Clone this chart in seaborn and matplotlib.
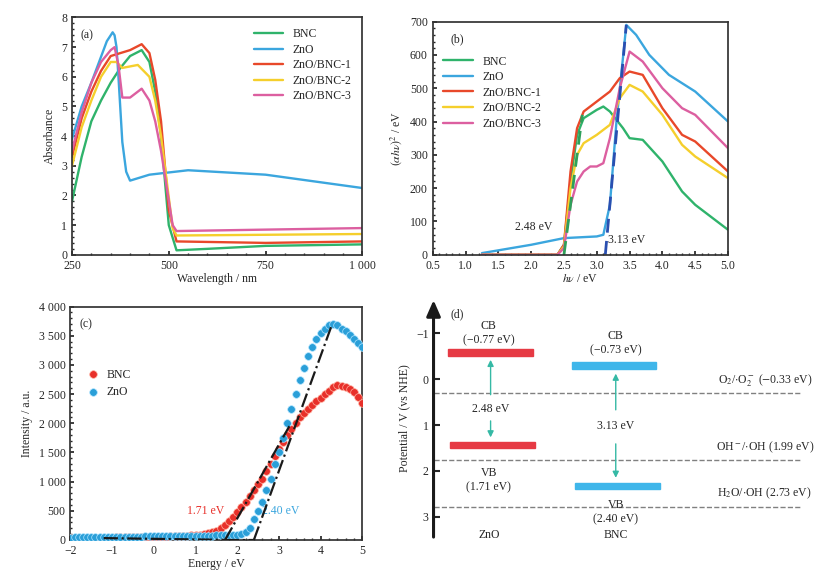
import numpy as np
import matplotlib
matplotlib.use("Agg")
import matplotlib.pyplot as plt
import seaborn as sns

sns.set_theme(style="ticks")
plt.rcParams["font.family"] = ["Liberation Serif", "DejaVu Serif"]
plt.rcParams["mathtext.fontset"] = "stix"
plt.rcParams["axes.edgecolor"] = "#333333"

names = ["BNC", "ZnO", "ZnO/BNC-1", "ZnO/BNC-2", "ZnO/BNC-3"]
colors = ["#2fb36b", "#3ba6de", "#e8482a", "#f5cf2c", "#dc5fa0"]

# (a) absorbance
wl_a = {
    "BNC": [250, 275, 300, 325, 350, 375, 400, 430, 450, 465, 480, 500, 520, 600, 750, 1000],
    "ZnO": [250, 275, 300, 320, 340, 355, 360, 365, 370, 380, 390, 400, 450, 550, 750, 1000],
    "ZnO/BNC-1": [250, 275, 300, 325, 350, 375, 400, 430, 450, 465, 480, 500, 520, 750, 1000],
    "ZnO/BNC-2": [250, 275, 300, 325, 350, 365, 380, 420, 450, 465, 480, 510, 520, 1000],
    "ZnO/BNC-3": [250, 275, 300, 325, 350, 360, 370, 380, 400, 430, 450, 465, 480, 510, 520, 1000],
}
abs_a = {
    "BNC": [1.8, 3.3, 4.5, 5.2, 5.8, 6.3, 6.7, 6.9, 6.5, 5.5, 4.0, 1.0, 0.15, 0.2, 0.3, 0.35],
    "ZnO": [3.9, 5.0, 5.8, 6.5, 7.2, 7.5, 7.4, 7.0, 6.0, 3.8, 2.8, 2.5, 2.7, 2.85, 2.7, 2.25],
    "ZnO/BNC-1": [3.3, 4.6, 5.5, 6.2, 6.7, 6.8, 6.9, 7.1, 6.8, 5.9, 4.5, 1.5, 0.45, 0.4, 0.45],
    "ZnO/BNC-2": [3.0, 4.3, 5.2, 6.0, 6.5, 6.5, 6.3, 6.4, 6.0, 5.2, 4.0, 0.9, 0.65, 0.7],
    "ZnO/BNC-3": [3.5, 4.8, 5.8, 6.5, 6.9, 7.0, 6.4, 5.3, 5.3, 5.6, 5.2, 4.5, 3.5, 1.0, 0.8, 0.9],
}

# (b) Tauc plot
hv_b = {
    "BNC": [1.25, 2.4, 2.5, 2.6, 2.7, 2.8, 3.0, 3.1, 3.2, 3.4, 3.5, 3.7, 4.0, 4.3, 4.5, 5.0],
    "ZnO": [1.25, 2.0, 2.5, 3.0, 3.1, 3.2, 3.3, 3.45, 3.6, 3.8, 4.1, 4.5, 5.0],
    "ZnO/BNC-1": [1.25, 2.4, 2.5, 2.6, 2.7, 2.8, 3.0, 3.2, 3.35, 3.5, 3.7, 4.0, 4.3, 4.5, 5.0],
    "ZnO/BNC-2": [1.25, 2.4, 2.5, 2.6, 2.7, 2.8, 3.0, 3.2, 3.35, 3.5, 3.7, 4.0, 4.3, 4.5, 5.0],
    "ZnO/BNC-3": [1.25, 2.4, 2.5, 2.6, 2.7, 2.8, 2.9, 3.0, 3.1, 3.2, 3.35, 3.5, 3.7, 4.0, 4.3, 4.5, 5.0],
}
ahv_b = {
    "BNC": [0, 0, 30, 220, 360, 410, 435, 445, 430, 380, 350, 345, 280, 190, 150, 75],
    "ZnO": [5, 30, 50, 55, 60, 150, 400, 690, 660, 600, 540, 490, 400],
    "ZnO/BNC-1": [0, 0, 30, 250, 380, 430, 460, 490, 530, 550, 540, 440, 360, 340, 250],
    "ZnO/BNC-2": [0, 0, 25, 200, 300, 335, 360, 390, 470, 510, 490, 420, 330, 295, 230],
    "ZnO/BNC-3": [0, 0, 20, 150, 220, 250, 265, 265, 275, 350, 500, 610, 580, 500, 440, 420, 320],
}
fit_bnc_x, fit_bnc_y = [2.5, 2.78], [0, 420]
fit_zno_x, fit_zno_y = [3.13, 3.45], [0, 690]

# (c) intensity vs energy
energy_c = np.round(np.arange(-2.0, 5.01, 0.1), 1)
bnc_c = [30, 31, 32, 33, 34, 35, 36, 37, 38, 39, 40, 41, 42, 43, 44, 45, 46, 47, 48, 49, 50,
         52, 54, 56, 58, 60, 63, 66, 70, 75, 80,
         90, 100, 115, 135, 160, 200, 250, 320, 400, 480,
         560, 650, 750, 850, 950, 1050, 1180, 1300, 1430, 1560,
         1680, 1800, 1900, 2000, 2100, 2180, 2250, 2320, 2380, 2430,
         2500, 2560, 2620, 2650, 2640, 2620, 2580, 2530, 2450, 2350]
zno_c = [40, 41, 42, 43, 44, 45, 46, 47, 48, 49, 50, 51, 52, 53, 54, 55, 56, 57, 58, 59, 60,
         61, 62, 63, 64, 65, 66, 67, 68, 69, 70,
         71, 72, 73, 74, 75, 77, 79, 82, 85, 90,
         100, 130, 200, 350, 500, 650, 850, 1050, 1300, 1500,
         1750, 2000, 2250, 2500, 2750, 2950, 3150, 3300, 3450, 3550,
         3620, 3680, 3700, 3680, 3620, 3580, 3520, 3450, 3380, 3300]
tan_bnc_x, tan_bnc_y = [1.71, 3.25], [0, 1950]
tan_zno_x, tan_zno_y = [2.40, 4.25], [0, 3650]

# (d) band positions (drawn positions)
zno_cb, zno_vb = -0.58, 1.43
bnc_cb, bnc_vb = -0.30, 2.33
redox_levels = [0.30, 1.76, 2.78]
redox_labels = [r"O$_2$/$\cdot$O$_2^-$ ($-$0.33 eV)", r"OH$^-$/$\cdot$OH (1.99 eV)",
                r"H$_2$O/$\cdot$OH (2.73 eV)"]

fig = plt.figure(figsize=(8.18, 5.83), dpi=100)
fs = 8.5

# ---- (a)
ax = fig.add_axes([0.088, 0.563, 0.355, 0.407])
for n, c in zip(names, colors):
    sns.lineplot(x=wl_a[n], y=abs_a[n], ax=ax, color=c, lw=1.7, label=n)
ax.set_xlim(250, 1000)
ax.set_ylim(0, 8)
ax.set_xticks([250, 500, 750, 1000])
ax.set_xticklabels(["250", "500", "750", "1 000"])
ax.set_xlabel("Wavelength / nm", fontsize=fs, labelpad=1)
ax.set_ylabel("Absorbance", fontsize=fs)
ax.text(0.03, 0.95, "(a)", transform=ax.transAxes, fontsize=fs, va="top")
ax.legend(loc="upper right", frameon=False, fontsize=fs, handlelength=2.5, labelspacing=0.3)

# ---- (b)
ax = fig.add_axes([0.529, 0.563, 0.361, 0.40])
for n, c in zip(names, colors):
    sns.lineplot(x=hv_b[n], y=ahv_b[n], ax=ax, color=c, lw=1.7, label=n)
ax.plot(fit_bnc_x, fit_bnc_y, ls=(0, (5, 3)), color="#2fa05a", lw=2)
ax.plot(fit_zno_x, fit_zno_y, ls=(0, (5, 3)), color="#2a4fb0", lw=2)
ax.text(1.75, 75, "2.48 eV", fontsize=fs)
ax.text(3.17, 35, "3.13 eV", fontsize=fs)
ax.set_xlim(0.5, 5.0)
ax.set_ylim(0, 700)
ax.set_xticks(np.arange(0.5, 5.01, 0.5))
ax.set_xlabel(r"$h\nu$ / eV", fontsize=fs, labelpad=1)
ax.set_ylabel(r"$(\alpha h\nu)^2$ / eV", fontsize=fs)
ax.text(0.06, 0.95, "(b)", transform=ax.transAxes, fontsize=fs, va="top")
ax.legend(loc="upper left", bbox_to_anchor=(0.0, 0.9), frameon=False, fontsize=fs,
          handlelength=2.5, labelspacing=0.3)

# ---- (c)
ax = fig.add_axes([0.086, 0.074, 0.357, 0.40])
sns.scatterplot(x=energy_c, y=bnc_c, ax=ax, color="#e8302a", edgecolor="#ffb0a0", s=30, lw=0.5, label="BNC", zorder=3)
sns.scatterplot(x=energy_c, y=zno_c, ax=ax, color="#2a9fd8", edgecolor="#b0e4ff", s=30, lw=0.5, label="ZnO", zorder=3)
ax.plot(tan_bnc_x, tan_bnc_y, ls="-.", color="k", lw=1.6, zorder=4)
ax.plot(tan_zno_x, tan_zno_y, ls="-.", color="k", lw=1.6, zorder=4)
ax.plot([-1.2, 1.71], [30, 0], ls="-.", color="k", lw=1.6, zorder=4)
ax.plot([1.71, 2.40], [0, 0], ls="-.", color="k", lw=1.6, zorder=4)
ax.text(0.8, 450, "1.71 eV", color="#e8302a", fontsize=fs)
ax.text(2.6, 450, "2.40 eV", color="#3ba6de", fontsize=fs)
ax.set_xlim(-2, 5)
ax.set_ylim(0, 4000)
ax.set_yticks(range(0, 4001, 500))
ax.set_yticklabels(["0", "500", "1 000", "1 500", "2 000", "2 500", "3 000", "3 500", "4 000"])
ax.set_xlabel("Energy / eV", fontsize=fs, labelpad=1)
ax.set_ylabel("Intensity / a.u.", fontsize=fs)
ax.text(0.03, 0.95, "(c)", transform=ax.transAxes, fontsize=fs, va="top")
ax.legend(loc="upper left", bbox_to_anchor=(0.0, 0.78), frameon=False, fontsize=fs, handletextpad=0.2)

for a in fig.axes:
    a.tick_params(labelsize=fs, direction="in", length=3)
    a.minorticks_on()
    a.tick_params(which="minor", direction="in", length=1.5)

# ---- (d)
ax = fig.add_axes([0.53, 0.074, 0.45, 0.416])
ax.set_xlim(0, 10)
ax.set_ylim(3.5, -1.78)
for s in ["top", "right", "bottom", "left"]:
    ax.spines[s].set_visible(False)
ax.annotate("", xy=(0, -1.78), xytext=(0, 3.5), xycoords="data",
            arrowprops=dict(arrowstyle="-|>,head_width=0.35,head_length=0.8", color="k", lw=2.2))
ax.set_xticks([])
ax.set_yticks([-1, 0, 1, 2, 3])
ax.set_yticklabels(["\u22121", "0", "1", "2", "3"])
ax.tick_params(axis="y", direction="in", length=4, width=1.5, labelsize=fs)
ax.set_ylabel("Potential / V (vs NHE)", fontsize=fs)
for lv, lb in zip(redox_levels, redox_labels):
    ax.axhline(lv, color="gray", ls="--", lw=1)
    ax.text(9.0, lv - 0.22, lb, ha="center", fontsize=fs)
bh = 0.14
ax.add_patch(plt.Rectangle((0.4, zno_cb - bh / 2), 2.3, bh, color="#e63a44"))
ax.add_patch(plt.Rectangle((0.45, zno_vb - bh / 2), 2.3, bh, color="#e63a44"))
ax.add_patch(plt.Rectangle((3.75, bnc_cb - bh / 2), 2.3, bh, color="#3fb6ea"))
ax.add_patch(plt.Rectangle((3.85, bnc_vb - bh / 2), 2.3, bh, color="#3fb6ea"))
teal = "#35b9a5"
ap = dict(arrowstyle="-|>,head_width=0.15,head_length=0.3", color=teal, lw=1)
ax.annotate("", xy=(1.55, zno_cb + 0.1), xytext=(1.55, 0.4), arrowprops=ap)
ax.annotate("", xy=(1.55, zno_vb - 0.1), xytext=(1.55, 0.85), arrowprops=ap)
ax.text(1.55, 0.65, "2.48 eV", ha="center", va="center", fontsize=fs)
ax.annotate("", xy=(4.95, bnc_cb + 0.12), xytext=(4.95, 0.73), arrowprops=ap)
ax.annotate("", xy=(4.95, bnc_vb - 0.12), xytext=(4.95, 1.35), arrowprops=ap)
ax.text(4.95, 1.03, "3.13 eV", ha="center", va="center", fontsize=fs)
ax.text(1.5, -1.0, "CB\n(\u22120.77 eV)", ha="center", va="center", fontsize=fs)
ax.text(4.95, -0.78, "CB\n(\u22120.73 eV)", ha="center", va="center", fontsize=fs)
ax.text(1.5, 2.2, "VB\n(1.71 eV)", ha="center", va="center", fontsize=fs)
ax.text(4.95, 2.9, "VB\n(2.40 eV)", ha="center", va="center", fontsize=fs)
ax.text(1.5, 3.4, "ZnO", ha="center", va="center", fontsize=fs)
ax.text(4.95, 3.4, "BNC", ha="center", va="center", fontsize=fs)
ax.text(0.45, -1.4, "(d)", fontsize=fs, va="center")

fig.savefig("out.png", dpi=100)
